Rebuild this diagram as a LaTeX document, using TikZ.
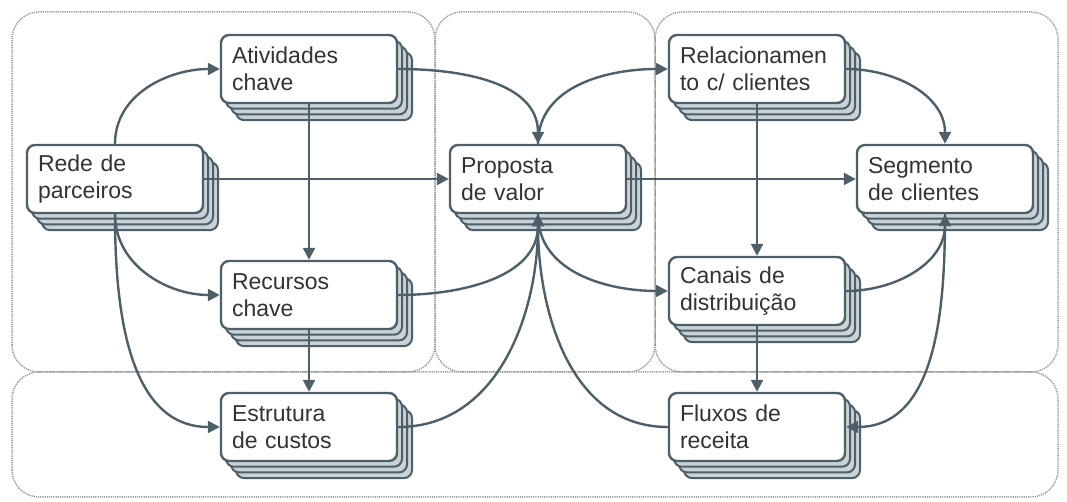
\documentclass[tikz,border=0pt]{standalone}
\usepackage{fontspec}
\setmainfont{Liberation Sans}
\usetikzlibrary{arrows.meta}
\definecolor{cslate}{HTML}{4E5F67}
\definecolor{clayer}{HTML}{C9D3D7}
\definecolor{cpanel}{HTML}{999999}
\definecolor{ctext}{HTML}{333333}
\tikzset{
  every picture/.style={line width=2pt},
  panel/.style={draw=cpanel, line width=1.5pt, dash pattern=on 1.2pt off 1pt, rounded corners=27pt},
  card/.style={draw=cslate, fill=white, rounded corners=8pt, line width=2.4pt, minimum height=68pt, text width=154pt, inner xsep=11pt, align=left, text=ctext, font=\fontsize{23}{27}\selectfont},
  layer/.style={draw=cslate, fill=clayer, rounded corners=8pt, line width=2pt, minimum width=176pt, minimum height=68pt},
  link/.style={-{Triangle[length=12pt,width=12pt]}, draw=cslate, line width=2.4pt},
}

\begin{document}
\begin{tikzpicture}[x=1pt,y=1pt]
  \useasboundingbox (0,0) rectangle (1067,502);
  % panels of the canvas
  \draw[panel] (12,130) rectangle (435,490);
  \draw[panel] (435,130) rectangle (655,490);
  \draw[panel] (655,130) rectangle (1058,490);
  \draw[panel] (12,5) rectangle (1058,130);
  % stacked cards
  \foreach \n/\x/\y/\txt in {rede/115/323/{Rede de\\parceiros}, ativ/309/433/{Atividades\\chave},
      recu/309/207/{Recursos\\chave}, estr/309/75/{Estrutura\\de custos}, prop/538/323/{Proposta\\de valor},
      rela/757/433/{Relacionamen\\to c/ clientes}, segm/945/323/{Segmento\\de clientes},
      cana/757/211/{Canais de\\distribuição}, flux/757/75/{Fluxos de\\receita}} {
    \foreach \k in {3,2,1}
      \node[layer] at (\x+5*\k,\y-5.7*\k) {};
    \node[card] (\n) at (\x,\y) {\txt};
  }
  % links
  \draw[link] (rede.north) to[out=90,in=180] (ativ.west);
  \draw[link] (rede.east) -- (prop.west);
  \draw[link] (rede.south) to[out=-90,in=180] (recu.west);
  \draw[link] (rede.south) to[out=-90,in=180] (estr.west);
  \draw[link] (ativ.south) -- (recu.north);
  \draw[link] (recu.south) -- (estr.north);
  \draw[link] (ativ.east) to[out=0,in=90] (prop.north);
  \draw[link] (recu.east) to[out=0,in=-90] (prop.south);
  \draw[link] (estr.east) to[out=0,in=-90] (prop.south);
  \draw[link] (prop.north) to[out=90,in=180] (rela.west);
  \draw[link] (prop.east) -- (segm.west);
  \draw[link] (prop.south) to[out=-90,in=180] (cana.west);
  \draw[link] (flux.west) to[out=180,in=-90] (prop.south);
  \draw[link] (rela.south) -- (cana.north);
  \draw[link] (rela.east) to[out=0,in=90] (segm.north);
  \draw[link] (cana.south) -- (flux.north);
  \draw[link] (cana.east) to[out=0,in=-90] (segm.south);
  \draw[link] (segm.south) to[out=-90,in=0] (flux.east);
\end{tikzpicture}
\end{document}
